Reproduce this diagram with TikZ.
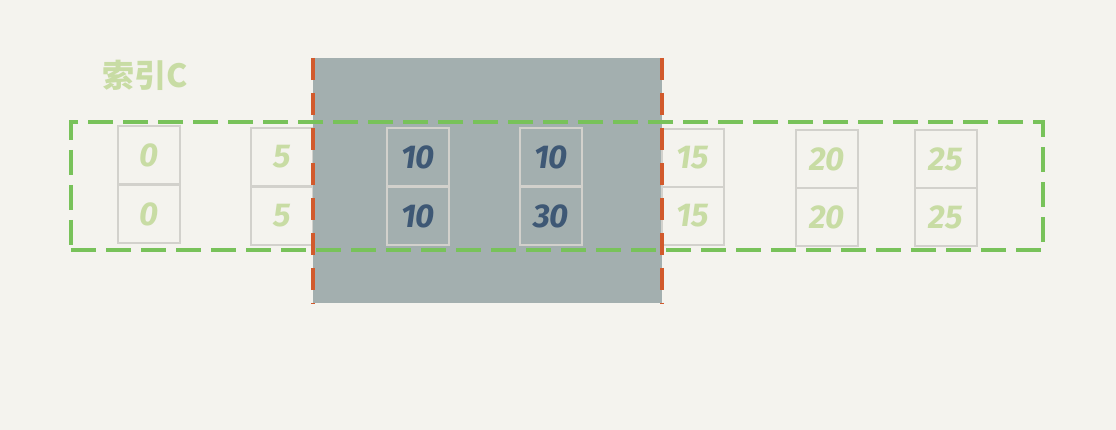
\documentclass[tikz,border=0pt]{standalone}
\usepackage{fontspec}
\setmainfont{Fira Sans}
\newfontfamily\cjk{Noto Sans CJK SC}
\definecolor{paper}{HTML}{F4F3EE}
\definecolor{rangegray}{HTML}{A3AFAF}
\definecolor{gapred}{HTML}{D25A2C}
\definecolor{idxgreen}{HTML}{78C25A}
\definecolor{lightgreen}{HTML}{C8DCA4}
\definecolor{darkblue}{HTML}{3E5875}
\definecolor{cellgray}{HTML}{D2D1CC}

\begin{document}
\begin{tikzpicture}[x=1pt, y=-1pt]
      \tikzstyle{cell}=[draw=cellgray, line width=2.5pt, minimum width=62pt, minimum height=58pt, inner sep=0pt, font=\fontsize{33}{33}\selectfont\bfseries\itshape]
      \tikzstyle{out cell}=[cell, text=lightgreen];
      \tikzstyle{in cell}=[cell, text=darkblue];
      \tikzstyle{gap line}=[draw=gapred, line width=3.5pt, dash pattern=on 22pt off 13pt];
      \tikzstyle{index box}=[draw=idxgreen, line width=3.5pt, dash pattern=on 25pt off 10pt, minimum width=972pt, minimum height=128pt, inner sep=0pt]

      \fill[paper] (0,0) rectangle (1116,430);
      \useasboundingbox (0,0) rectangle (1116,430);

      \node[text=lightgreen, font=\cjk\bfseries\fontsize{32}{32}\selectfont] (label) at (145,75) {索引C};

      \node[out cell] (a1) at (149,155) {0};
      \node[out cell] (a2) at (149,214) {0};
      \node[out cell] (b1) at (282,157) {5};
      \node[out cell] (b2) at (282,216) {5};

      \node[fill=rangegray, minimum width=349pt, minimum height=245pt, inner sep=0pt] (range) at (487.5,180.5) {};

      \node[in cell] (c1) at (418,157) {10};
      \node[in cell] (c2) at (418,216) {10};
      \node[in cell] (d1) at (551,157) {10};
      \node[in cell] (d2) at (551,216) {30};
      \node[out cell] (e1) at (693,158) {15};
      \node[out cell] (e2) at (693,216) {15};
      \node[out cell] (f1) at (827,159) {20};
      \node[out cell] (f2) at (827,217) {20};
      \node[out cell] (g1) at (946,159) {25};
      \node[out cell] (g2) at (946,217) {25};

      \node[index box] (idxC) at (557,186) {};

      \path[gap line] (range.north west) -- (range.south west);
      \path[gap line] (range.north east) -- (range.south east);
\end{tikzpicture}
\end{document}
